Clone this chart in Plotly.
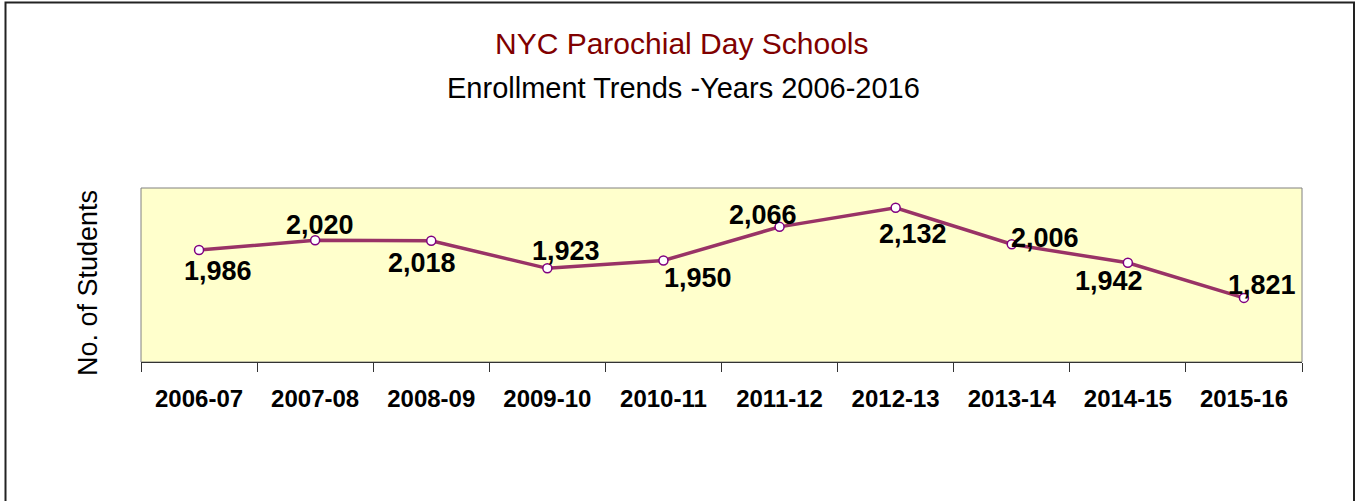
import plotly.graph_objects as go

years = ["2006-07", "2007-08", "2008-09", "2009-10", "2010-11",
         "2011-12", "2012-13", "2013-14", "2014-15", "2015-16"]
students = [1986, 2020, 2018, 1923, 1950, 2066, 2132, 2006, 1942, 1821]
# label offsets in pixels (dx right, dy up) as in the reference
label_dx = [19, 5, -9, 19, 35, -17, 17, 33, -19, 18]
label_dy = [-21, 15, -22, 17, -17, 12, -26, 6, -18, 13]

W, H = 1361, 501
# plot area in page pixels: x 141..1302, y 188..362
L, R, T, B = 141, W - 1302, 188, H - 362
pw, ph = W - L - R, H - T - B

def px(x):
    return (x - L) / pw

def py(y):
    return (H - B - y) / ph

fig = go.Figure()
fig.add_trace(go.Scatter(
    x=years, y=students, mode="lines+markers",
    line=dict(color="#993366", width=3.5),
    marker=dict(size=9, color="white", line=dict(color="#800080", width=1.5)),
    hoverinfo="skip", showlegend=False,
))

for x, y, dx, dy in zip(years, students, label_dx, label_dy):
    fig.add_annotation(x=x, y=y, text=f"{y:,}", showarrow=False,
                       xshift=dx, yshift=dy, xanchor="center", yanchor="middle",
                       font=dict(family="Liberation Sans, Arial", size=27, color="black", weight="bold"))

title_font = "Liberation Sans Narrow, Arial Narrow, Liberation Sans, Arial"
fig.add_annotation(xref="paper", yref="paper", x=px(682), y=py(44),
                   xanchor="center", yanchor="middle",
                   text="NYC Parochial Day Schools", showarrow=False,
                   font=dict(family=title_font, size=30, color="#800000"))
fig.add_annotation(xref="paper", yref="paper", x=px(683), y=py(88),
                   xanchor="center", yanchor="middle",
                   text="Enrollment Trends -Years 2006-2016", showarrow=False,
                   font=dict(family=title_font, size=29, color="black"))
fig.add_annotation(xref="paper", yref="paper", x=px(88), y=py(283),
                   xanchor="center", yanchor="middle",
                   text="No. of Students", showarrow=False, textangle=-90,
                   font=dict(family="Liberation Sans, Arial", size=27, color="black"))

# plot-area border (gray)
fig.add_shape(type="rect", xref="paper", yref="paper", x0=0, x1=1, y0=0, y1=1,
              line=dict(color="#808080", width=1), layer="below")
# outer chart border
fig.add_shape(type="rect", xref="paper", yref="paper",
              x0=px(5.5), x1=px(1354), y0=py(560), y1=py(2.5),
              line=dict(color="#222222", width=2), fillcolor="rgba(0,0,0,0)")

fig.update_layout(
    width=W, height=H,
    margin=dict(l=L, r=R, t=T, b=B, pad=0),
    paper_bgcolor="white", plot_bgcolor="#FFFFCC",
    xaxis=dict(type="category", range=[-0.5, 9.5], tickson="boundaries",
               ticks="outside", ticklen=9, tickcolor="#333333", tickwidth=1,
               showline=True, linecolor="#333333", linewidth=1,
               showgrid=False, zeroline=False, ticklabelstandoff=15,
               tickfont=dict(family="Liberation Sans, Arial", size=24, color="black", weight="bold")),
    yaxis=dict(range=[1600, 2200], visible=False, showgrid=False, zeroline=False),
)

fig.write_html("out.html", config={"displayModeBar": False},
               post_script="document.body.style.margin='0';document.body.style.overflow='hidden';")
